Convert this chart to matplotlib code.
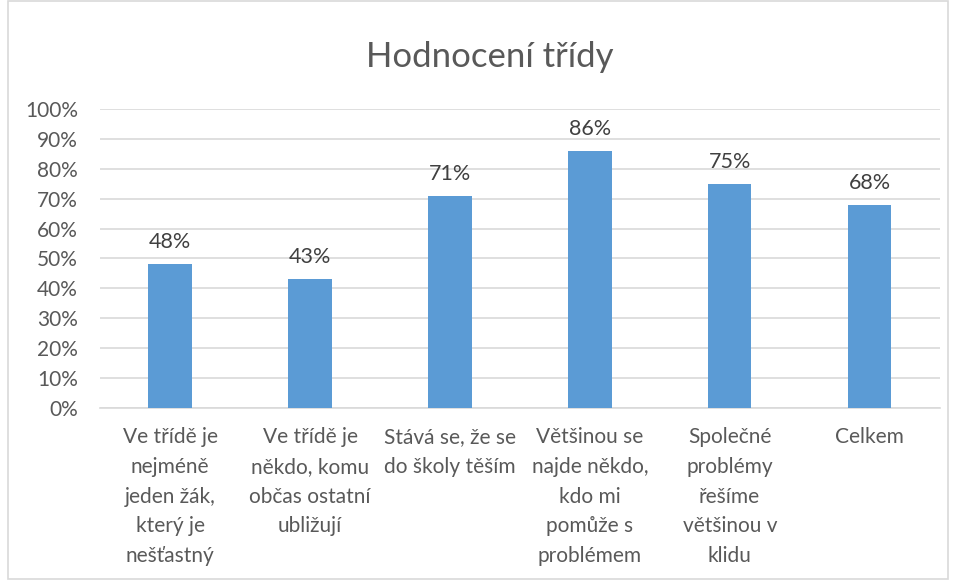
import matplotlib.pyplot as plt
from matplotlib.patches import Rectangle
from matplotlib.ticker import PercentFormatter

plt.rcParams['font.family'] = ['Lato', 'DejaVu Sans']

kategorie = [
    "Ve třídě je\nnejméně\njeden žák,\nkterý je\nnešťastný",
    "Ve třídě je\nněkdo, komu\nobčas ostatní\nubližují",
    "Stává se, že se\ndo školy těším",
    "Většinou se\nnajde někdo,\nkdo mi\npomůže s\nproblémem",
    "Společné\nproblémy\nřešíme\nvětšinou v\nklidu",
    "Celkem",
]
hodnoty = [48, 43, 71, 86, 75, 68]

seda = '#595959'

fig = plt.figure(figsize=(9.54, 5.8), dpi=100)
ax = fig.add_axes([0.105, 0.2966, 0.88, 0.5155])

x = range(len(hodnoty))
bars = ax.bar(x, hodnoty, width=0.31, color='#5b9bd5', zorder=3)
for b, v in zip(bars, hodnoty):
    ax.text(b.get_x() + b.get_width() / 2, v + 4, f'{v}%', ha='center', va='bottom',
            fontsize=15.5, color='#404040')

ax.set_ylim(0, 100)
ax.set_xlim(-0.5, len(hodnoty) - 0.5)
ax.set_yticks(range(0, 101, 10))
ax.yaxis.set_major_formatter(PercentFormatter(decimals=0))
ax.set_xticks(list(x))
ax.set_xticklabels(kategorie, linespacing=1.6)
ax.tick_params(length=0, labelsize=15, colors=seda)
ax.tick_params(axis='y', pad=16)
ax.tick_params(axis='x', pad=14)
ax.grid(axis='y', color='#d9d9d9', linewidth=1.2, zorder=0)
for s in ['top', 'right', 'left']:
    ax.spines[s].set_visible(False)
ax.spines['bottom'].set_color('#d9d9d9')
ax.spines['bottom'].set_linewidth(1.2)

fig.text(0.513, 0.902, 'Hodnocení třídy', ha='center', va='center', fontsize=25, color=seda)

fig.patches.append(Rectangle((8 / 954, 0.002), 940 / 954, 0.996, transform=fig.transFigure,
                             fill=False, edgecolor='#d9d9d9', linewidth=1.2))

fig.savefig('out.png', dpi=100)
